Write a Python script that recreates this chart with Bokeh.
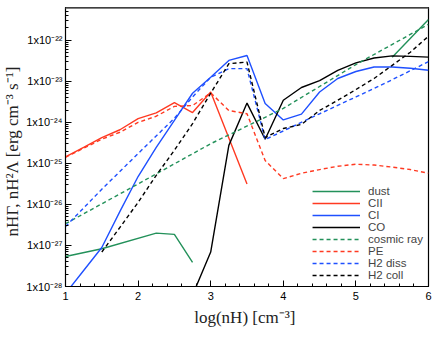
from bokeh.plotting import figure
from bokeh.models import (Range1d, FixedTicker, CustomJSTickFormatter, Legend, LegendItem, Span)
from bokeh.embed import file_html
from bokeh.resources import INLINE

nan = float("nan")

# log10 of the rates; x = log(n_H)
dust_x = [1.0, 1.5, 2.25, 2.5, 2.75, nan, 5.5, 6.0]
dust_y = [-27.27, -27.08, -26.70, -26.73, -27.41, nan, -22.41, -21.49]

cii_x = [1.0, 1.25, 1.5, 1.75, 2.0, 2.25, 2.5, 2.75, 3.0, 3.5]
cii_y = [-24.84, -24.61, -24.37, -24.18, -23.91, -23.77, -23.52, -23.76, -23.26, -25.50]

ci_x = [1.0, 1.25, 1.5, 1.75, 2.0, 2.25, 2.5, 2.75, 3.0, 3.25, 3.5, 3.75, 4.0, 4.25, 4.5, 4.75, 5.0, 5.25, 5.5, 5.75, 6.0]
ci_y = [-28.17, -27.61, -27.05, -26.17, -25.32, -24.61, -23.95, -23.29, -22.90, -22.49, -22.37,
        -23.54, -23.94, -23.80, -23.26, -22.93, -22.76, -22.65, -22.65, -22.68, -22.73]

co_x = [2.75, 3.0, 3.25, 3.5, 3.75, 4.0, 4.25, 4.5, 4.75, 5.0, 5.25, 5.5, 5.75, 6.0]
co_y = [-28.21, -27.16, -24.56, -23.53, -24.41, -23.46, -23.15, -22.98, -22.73, -22.55, -22.43, -22.38, -22.39, -22.41]

cr_x = [1.0, 2.0, 3.0, 4.0, 5.0, 6.0]
cr_y = [-26.47, -25.50, -24.52, -23.66, -22.59, -21.61]

pe_x = [1.0, 1.25, 1.5, 1.75, 2.0, 2.25, 2.5, 2.75, 3.0, 3.25, 3.5, 3.75, 4.0, 4.25, 4.5, 4.75, 5.0, 5.25, 5.5, 5.75, 6.0]
pe_y = [-24.85, -24.63, -24.41, -24.24, -24.00, -23.85, -23.61, -23.59, -23.28, -23.71, -23.79,
        -24.93, -25.37, -25.24, -25.15, -25.07, -25.02, -25.04, -25.09, -25.15, -25.24]

h2d_x = [1.0, 1.5, 2.0, 2.5, 2.75, 3.0, 3.25, 3.5, 3.75, 4.0, 4.5, 5.0, 5.5, 6.0]
h2d_y = [-26.54, -25.63, -24.76, -23.90, -23.38, -22.90, -22.69, -22.69, -24.42, -24.21, -23.79, -23.38, -22.96, -22.52]

h2c_x = [1.5, 1.75, 2.0, 2.25, 2.5, 2.75, 3.0, 3.25, 3.5, 3.75, 4.0, 4.25, 4.5, 4.75, 5.0, 5.25, 5.5, 5.75, 6.0]
h2c_y = [-27.16, -26.56, -25.95, -25.29, -24.68, -24.03, -23.29, -22.57, -22.53, -24.37, -24.15, -24.05,
         -23.71, -23.46, -23.20, -22.93, -22.61, -22.29, -21.90]

y_exponents = [-28, -27, -26, -25, -24, -23, -22]
x_ticks = [1, 2, 3, 4, 5, 6]

GREEN = "#23915a"
RED = "#ff3a22"
BLUE = "#1f50ff"
BLACK = "#000000"

series = [
    ("dust", dust_x, dust_y, GREEN, "solid"),
    ("CII", cii_x, cii_y, RED, "solid"),
    ("CI", ci_x, ci_y, BLUE, "solid"),
    ("CO", co_x, co_y, BLACK, "solid"),
    ("cosmic ray", cr_x, cr_y, GREEN, "4 3"),
    ("PE", pe_x, pe_y, RED, "4 3"),
    ("H2 diss", h2d_x, h2d_y, BLUE, "4 3"),
    ("H2 coll", h2c_x, h2c_y, BLACK, "4 3"),
]

ymin, ymax = 1e-28, 10 ** -21.2

p = figure(width=434, height=335, output_backend="svg", toolbar_location=None,
           y_axis_type="log", x_range=Range1d(1, 6), y_range=Range1d(ymin, ymax),
           min_border_left=58, min_border_right=6, min_border_top=7, min_border_bottom=49)
p.background_fill_color = "white"
p.border_fill_color = "white"
p.grid.visible = False
p.outline_line_color = "black"
p.outline_line_width = 1.2

items = []
for name, xs, ys, col, dash in series:
    yv = [10 ** v if v == v else nan for v in ys]
    r = p.line(xs, yv, line_color=col, line_width=1.4, line_dash=dash)
    items.append(LegendItem(label=name, renderers=[r]))

# top gray border line
p.add_layout(Span(location=ymax, dimension="width", line_color="#808080", line_width=3))

# y axis
minor = [k * 10.0 ** e for e in y_exponents[:-1] for k in range(2, 10)] + [k * 1e-22 for k in range(2, 7)]
p.yaxis.ticker = FixedTicker(ticks=[10.0 ** e for e in y_exponents], minor_ticks=minor)
p.yaxis.formatter = CustomJSTickFormatter(code="""
const e = Math.round(Math.log10(tick));
const sup = {'-':'\u207b','0':'\u2070','1':'\u00b9','2':'\u00b2','3':'\u00b3','4':'\u2074','5':'\u2075','6':'\u2076','7':'\u2077','8':'\u2078','9':'\u2079'};
return '1x10' + String(e).split('').map(c => sup[c]).join('');
""")
p.xaxis.ticker = FixedTicker(ticks=x_ticks, minor_ticks=[1 + 0.2 * i for i in range(26)])

for ax in [p.xaxis, p.yaxis]:
    ax.major_tick_in = 6
    ax.major_tick_out = 0
    ax.minor_tick_in = 3
    ax.minor_tick_out = 0
    ax.axis_line_color = "black"
    ax.major_tick_line_color = "black"
    ax.minor_tick_line_color = "black"
    ax.major_label_text_font = "Liberation Sans"
    ax.major_label_text_font_size = "11px"
    ax.major_label_text_color = "black"
    ax.axis_label_text_font = "Liberation Serif"
    ax.axis_label_text_font_style = "normal"
    ax.axis_label_text_font_size = "17px"
    ax.axis_label_text_color = "#222222"

p.yaxis.major_label_standoff = 3
p.xaxis.major_label_standoff = 5
p.xaxis.axis_label = "log(nH)  [cm\u207b\u00b3]"
p.yaxis.axis_label = "nHΓ,  nH\u00b2Λ  [erg cm\u207b\u00b3 s\u207b\u00b9]"
p.yaxis.axis_label_standoff = 1
p.xaxis.axis_label_standoff = 5

legend = Legend(items=items, location="bottom_right")
legend.border_line_color = None
legend.background_fill_alpha = 0
legend.label_text_font = "Liberation Sans"
legend.label_text_font_size = "11.5px"
legend.label_height = 12
legend.glyph_height = 12
legend.glyph_width = 48
legend.spacing = 0
legend.padding = 2
legend.margin = 5
legend.label_standoff = 8
p.add_layout(legend)

open("out.html", "w").write(file_html(p, INLINE))
